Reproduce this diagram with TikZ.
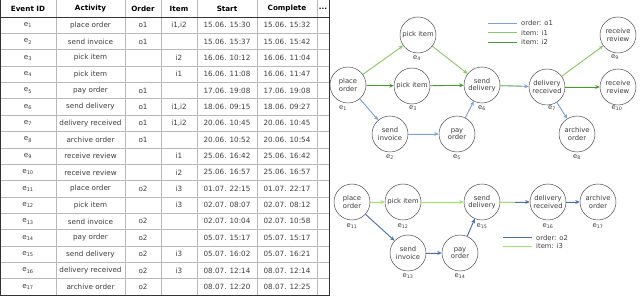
\documentclass[tikz,border=0pt]{standalone}
\usepackage{fontspec}
\setmainfont{DejaVu Sans}
\usetikzlibrary{arrows.meta}
\definecolor{oone}{HTML}{7FA0D4}
\definecolor{ione}{HTML}{8DC66B}
\definecolor{itwo}{HTML}{4F9636}
\definecolor{otwo}{HTML}{4B6EA6}
\definecolor{ithree}{HTML}{9EE46C}
\definecolor{txt}{HTML}{3C3C3C}
\newcommand\ev[1]{e\textsubscript{#1}}
\tikzset{
  gridl/.style={draw=gray!55, line width=0.5pt},
  outl/.style={draw=black!80, line width=0.6pt},
  hd/.style={font=\fontsize{7.2}{8}\selectfont\bfseries, text=black, inner sep=0},
  cell/.style={font=\fontsize{7.2}{8}\selectfont, text=txt, inner sep=0},
  ev/.style={circle, draw=black!70, line width=0.5pt, minimum size=36pt, inner sep=0,
    align=center, font=\fontsize{6.8}{7.6}\selectfont, text=txt, fill=white},
  lab/.style={font=\fontsize{6.8}{7}\selectfont, text=txt, inner sep=0.5pt},
  arr/.style={line width=0.9pt, -{Stealth[length=4.5pt,width=4pt]}},
  eo1/.style={arr, draw=oone, fill=oone},
  ei1/.style={arr, draw=ione, fill=ione},
  ei2/.style={arr, draw=itwo, fill=itwo},
  eo2/.style={arr, draw=otwo, fill=otwo},
  ei3/.style={arr, draw=ithree, fill=ithree},
  leg/.style={font=\fontsize{6.8}{7}\selectfont, text=txt, anchor=west, inner sep=0},
}
\begin{document}
\begin{tikzpicture}[x=1pt,y=-1pt]
\useasboundingbox (0,0) rectangle (640,296);
% ---------- table ----------
\foreach \x in {56,125,161,197,257,317}
  \draw[gridl] (\x,0) -- (\x,295);
\foreach \i in {1,...,16}
  \draw[gridl] (0.5,17+\i*16.35) -- (329,17+\i*16.35);
\draw[outl] (0.5,17) -- (329,17);
\draw[outl] (0.5,0) -- (0.5,295) -- (329,295) -- (329,0);
\node[hd] (h1) at (28,8.5) {Event ID};
\node[hd] (h2) at (90.5,8.5) {Activity};
\node[hd] (h3) at (143,8.5) {Order};
\node[hd] (h4) at (179,8.5) {Item};
\node[hd] (h5) at (227,8.5) {Start};
\node[hd] (h6) at (287,8.5) {Complete};
\node[hd] (h7) at (323,8.5) {...};
\foreach \n/\a/\o/\itm/\s/\c in {
  1/place order/o1/{i1,i2}/15.06. 15:30/15.06. 15:32,
  2/send invoice/o1//15.06. 15:37/15.06. 15:42,
  3/pick item//i2/16.06. 10:12/16.06. 11:04,
  4/pick item//i1/16.06. 11:08/16.06. 11:47,
  5/pay order/o1//17.06. 19:08/17.06. 19:08,
  6/send delivery/o1/{i1,i2}/18.06. 09:15/18.06. 09:27,
  7/delivery received/o1/{i1,i2}/20.06. 10:45/20.06. 10:45,
  8/archive order/o1//20.06. 10:52/20.06. 10:54,
  9/receive review//i1/25.06. 16:42/25.06. 16:42,
  10/receive review//i2/25.06. 16:57/25.06. 16:57,
  11/place order/o2/i3/01.07. 22:15/01.07. 22:17,
  12/pick item//i3/02.07. 08:07/02.07. 08:12,
  13/send invoice/o2//02.07. 10:04/02.07. 10:58,
  14/pay order/o2//05.07. 15:17/05.07. 15:17,
  15/send delivery/o2/i3/05.07. 16:02/05.07. 16:21,
  16/delivery received/o2/i3/08.07. 12:14/08.07. 12:14,
  17/archive order/o2//08.07. 12:20/08.07. 12:25}
{
  \pgfmathsetmacro\yy{17+(\n-0.5)*16.35}
  \node[cell] (id\n) at (28,\yy) {\ev{\n}};
  \node[cell] (ac\n) at (90.5,\yy) {\a};
  \node[cell] (or\n) at (143,\yy) {\o};
  \node[cell] (it\n) at (179,\yy) {\itm};
  \node[cell] (st\n) at (227,\yy) {\s};
  \node[cell] (co\n) at (287,\yy) {\c};
}
% ---------- upper graph ----------
\node[ev] (e1) at (348,85) {place\\order};
\node[ev] (e4) at (418,35) {pick item};
\node[ev] (e3) at (412,86) {pick item};
\node[ev] (e6) at (482,85) {send\\delivery};
\node[ev] (e7) at (547,87) {delivery\\received};
\node[ev] (e9) at (618,35) {receive\\review};
\node[ev] (e10) at (618,87) {receive\\review};
\node[ev] (e2) at (390,134) {send\\invoice};
\node[ev] (e5) at (457,134) {pay\\order};
\node[ev] (e8) at (577,134) {archive\\order};
\node[lab] (l1) at (343,108) {\ev{1}};
\node[lab] (l4) at (417,58) {\ev{4}};
\node[lab] (l3) at (413,108) {\ev{3}};
\node[lab] (l6) at (482,108) {\ev{6}};
\node[lab] (l7) at (552,108) {\ev{7}};
\node[lab] (l9) at (615,57) {\ev{9}};
\node[lab] (l10) at (617,108) {\ev{10}};
\node[lab] (l2) at (390,157) {\ev{2}};
\node[lab] (l5) at (457,157) {\ev{5}};
\node[lab] (l8) at (577,157) {\ev{8}};
\draw[ei1] (e1) -- (e4);
\draw[ei2] (e1) -- (e3);
\draw[eo1] (e1) -- (e2);
\draw[ei1] (e4) -- (e6);
\draw[ei2] (e3) -- (e6);
\draw[eo1] (e2) -- (e5);
\draw[eo1] (e5) -- (e6);
\draw[eo1] (e6) -- (e7);
\draw[line width=0.9pt, draw=ione, shorten >=7pt] (e6) -- (e7);
\draw[ei1] (e7) -- (e9);
\draw[ei2] (e7) -- (e10);
\draw[eo1] (e7) -- (e8);
% legend 1
\coordinate (a1) at (488,23.3); \coordinate (b1) at (517,23.3);
\coordinate (a2) at (488,32.7); \coordinate (b2) at (517,32.7);
\coordinate (a3) at (488,42.3); \coordinate (b3) at (517,42.3);
\draw[line width=0.9pt, oone] (a1) -- (b1);
\draw[line width=0.9pt, ione] (a2) -- (b2);
\draw[line width=0.9pt, itwo] (a3) -- (b3);
\node[leg] (t1) at (521,23.3) {order: o1};
\node[leg] (t2) at (521,32.7) {item: i1};
\node[leg] (t3) at (521,42.3) {item: i2};
% ---------- lower graph ----------
\node[ev] (e11) at (352,202) {place\\order};
\node[ev] (e12) at (403,202) {pick item};
\node[ev] (e15) at (482,202) {send\\delivery};
\node[ev] (e16) at (548,202) {delivery\\received};
\node[ev] (e17) at (598,202) {archive\\order};
\node[ev] (e13) at (408,253) {send\\invoice};
\node[ev] (e14) at (460,253) {pay\\order};
\node[lab] (l11) at (352,226) {\ev{11}};
\node[lab] (l12) at (403,226) {\ev{12}};
\node[lab] (l15) at (482,226) {\ev{15}};
\node[lab] (l16) at (548,226) {\ev{16}};
\node[lab] (l17) at (598,226) {\ev{17}};
\node[lab] (l13) at (408,276) {\ev{13}};
\node[lab] (l14) at (460,276) {\ev{14}};
\draw[ei3] (e11) -- (e12);
\draw[eo2] (e11) -- (e13);
\draw[ei3] (e12) -- (e15);
\draw[eo2] (e13) -- (e14);
\draw[eo2] (e14) -- (e15);
\draw[eo2] (e15) -- (e16);
\draw[line width=0.9pt, draw=ithree, shorten >=15pt] (e15) -- (e16);
\draw[eo2] (e16) -- (e17);
% legend 2
\coordinate (c1) at (503,237.7); \coordinate (d1) at (532,237.7);
\coordinate (c2) at (503,246); \coordinate (d2) at (532,246);
\draw[line width=0.9pt, otwo] (c1) -- (d1);
\draw[line width=0.9pt, ithree] (c2) -- (d2);
\node[leg] (t4) at (536,237.7) {order: o2};
\node[leg] (t5) at (536,246) {item: i3};
\end{tikzpicture}
\end{document}
